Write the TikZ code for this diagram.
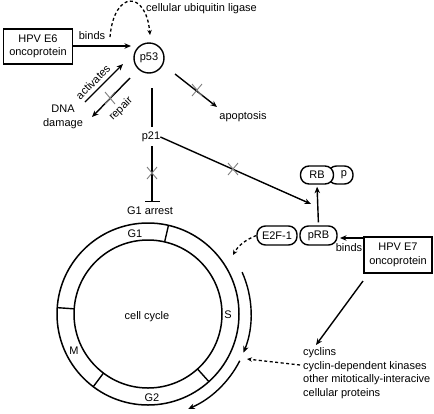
\documentclass[tikz,border=0pt]{standalone}
\usepackage{fontspec}
\setmainfont{Liberation Sans}
\usetikzlibrary{arrows.meta,calc}
\begin{document}
\begin{tikzpicture}[x=1pt,y=-1pt,
  every node/.style={font=\fontsize{11}{13.5}\selectfont, inner sep=0pt},
  ln/.style={line width=1.4pt},
  arr/.style={line width=1.4pt,-{Stealth[length=6.5pt,width=5.5pt]}},
  darr/.style={line width=1.3pt,dash pattern=on 3pt off 2.5pt,-{Stealth[length=5pt,width=4.5pt]}},
  box/.style={draw,line width=1.4pt,minimum width=69pt,minimum height=35pt,align=center},
  pill/.style={draw,line width=1.4pt,rounded corners=8.5pt,fill=white,minimum height=18pt},
  cc/.style={draw,circle,line width=1.5pt},
  xmark/.style={gray,line width=0.9pt},
]
\useasboundingbox (0,0) rectangle (434,413);

% ---- upper part ----
\node[box] (e6) at (38,46.5) {HPV E6\\oncoprotein};
\node[cc,line width=1.4pt,minimum size=30pt] (p53) at (149,58) {p53};
\node[anchor=west] (ubi) at (146,9) {cellular ubiquitin ligase};
\node (binds1) at (92,36) {binds};
\node[align=center] (dna) at (63,117) {DNA\\damage};
\node (apop) at (243,117) {apoptosis};
\node (p21) at (151,137) {p21};
\node (g1a) at (150,211) {G1 arrest};
\node[rotate=45] (act) at (93,82) {activates};
\node[rotate=45] (rep) at (121,109) {repair};

\coordinate (ub0) at (110,37);
\coordinate (ub1) at (150,35);
\draw[darr] (ub0) .. controls (114,-10) and (146,-10) .. (ub1);

\coordinate (b6) at (131,46);
\draw[arr] (e6.east |- b6) -- (b6);

\coordinate (a0) at (85,102);
\coordinate (a1) at (123,64);
\draw[arr] (a0) -- (a1);
\coordinate (r0) at (130,78);
\coordinate (r1) at (92,117);
\draw[arr] (r0) -- (r1);
\draw[xmark] (110,98) ++(-5,-6) -- ++(10,12) ++(0,-12) -- ++(-10,12);

\coordinate (ap0) at (175,74);
\coordinate (ap1) at (217,107);
\draw[arr] (ap0) -- (ap1);
\draw[xmark] (197,90) ++(-5,-6) -- ++(10,12) ++(0,-12) -- ++(-10,12);

\coordinate (l1) at (152,88);
\draw[ln,shorten >=5pt] (l1) -- (l1 |- p21.north);
\draw[ln,shorten <=4pt,shorten >=4.5pt,-{Bar[width=15pt,line width=1.4pt]}] (l1 |- p21.south) -- (l1 |- g1a.north);
\draw[xmark] (152,173) ++(-5,-6) -- ++(10,12) ++(0,-12) -- ++(-10,12);

% ---- RB part ----
\node[pill,minimum width=25pt] (pp) at (340.5,175) {\hspace*{7pt}p};
\node[pill,minimum width=33pt] (rb) at (317,175) {RB};
\node[pill,minimum width=37pt,minimum height=19pt] (prb) at (318.5,235.5) {pRB};
\node[pill,minimum width=40pt,minimum height=19pt] (e2f) at (277,235.5) {E2F-1};
\node[box,minimum width=68pt,minimum height=36pt] (e7) at (398,255) {HPV E7\\oncoprotein};
\node (binds2) at (349,248) {binds};

\coordinate (rbt) at (311,204);
\draw[arr] (p21.east) -- (rbt);
\draw[xmark] (233,169) ++(-5,-6) -- ++(10,12) ++(0,-12) -- ++(-10,12);
\draw[arr,shorten <=3pt,shorten >=2pt] (prb.north) -- (rb.south);

\coordinate (e7a) at (363,238);
\coordinate (e7b) at (340,238);
\draw[arr] (e7a) -- (e7b);

\coordinate (ef1) at (233,255);
\draw[darr] (e2f.west) .. controls (245,240) and (238,246) .. (ef1);

% ---- cell cycle ----
\coordinate (C) at (148,314);
\node[cc,minimum size=148pt] (inner) at (C) {};
\node[cc,minimum size=182pt] (outer) at (C) {};
\node (ccl) at (147,317) {cell cycle};
\foreach \a in {-77,-176,127,48}
  \draw[line width=1.4pt] ($(C)+(\a:74)$) -- ($(C)+(\a:91)$);
\node (g1) at (135,234) {G1};
\node (s) at (228,315) {S};
\node (m) at (74,351) {M};
\node (g2) at (152,398) {G2};

\draw[arr] ($(C)+(-24:103)$) arc[start angle=-24,end angle=22,radius=103];
\draw[arr] ($(C)+(27:103)$) arc[start angle=27,end angle=67,radius=103];

% ---- cyclins ----
\node[anchor=north west,align=left] (cyc) at (303,347.5) {cyclins\\cyclin-dependent kinases\\other mitotically-interacive\\cellular proteins};
\coordinate (cy0) at (300,365);
\coordinate (cy1) at (247,359);
\draw[darr] (cy0) -- (cy1);
\coordinate (e7c) at (363,281);
\coordinate (e7d) at (316,345);
\draw[arr] (e7c) -- (e7d);
\end{tikzpicture}
\end{document}
